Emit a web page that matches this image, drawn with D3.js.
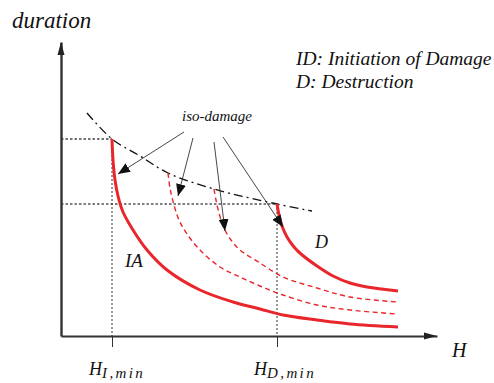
<!DOCTYPE html>
<html>
<head>
<meta charset="utf-8">
<script src="https://cdn.jsdelivr.net/npm/d3@7"></script>
<style>
  body { margin: 0; background: #fff; }
  svg { display: block; }
</style>
</head>
<body>
<svg id="chart" width="494" height="383"></svg>
<script>
// Schematic H / duration plane, values in arbitrary units measured from the origin.
const hIMin = 51;     // H_I,min : initiation of damage threshold
const hDMin = 216;    // H_D,min : destruction threshold
const durI = 197;     // duration level where the IA curve begins
const durD = 132;     // duration level where the D curve begins

// Iso-damage curves [H, duration]
const curveIA = [[51,197],[52,176],[54,156],[57,140],[62,124],[72,106],[86,86],[106,66],
                 [139,46],[172,34],[199,27],[222,21],[256,16],[289,12],[337,9]];
const isoLow  = [[107,163],[109,148],[113,131],[118,116],[126,102],[139,86],[159,69],[179,59],
                 [199,50],[222,41],[256,31],[289,26],[336,22]];
const isoHigh = [[153,147],[155,136],[158,123],[163,108],[170,96],[179,86],[199,73],[222,59],
                 [256,48],[289,39],[336,34]];
const curveD  = [[216,132],[218,121],[221,110],[226,99],[233,89],[240,82],[256,70],[272,60],
                 [289,53],[306,49],[337,45]];

// Dash-dot envelope through the start of each curve
const envelope = [[26,223],[51,197],[79,180],[107,163],[153,147],[216,132],[251,125]];

// Pointers from the "iso-damage" label to the curves
const pointers = [
  { from: [123,204], to: [57,162] },
  { from: [132,198], to: [117,140] },
  { from: [153,194], to: [164,105] },
  { from: [162,199], to: [222,109] }
];

const legendLines = ["ID: Initiation of Damage", "D: Destruction"];
const tickLabels = [
  { main: "H", sub: "I,min", at: hIMin },
  { main: "H", sub: "D,min", at: hDMin }
];
const curveLabels = [
  { text: "iso-damage", at: [121,215], size: 15 },
  { text: "IA", at: [64,69], size: 19 },
  { text: "D", at: [254,88], size: 18 }
];

const SERIF = '"Liberation Serif"';
const svg = d3.select("#chart");
const x = d3.scaleLinear().domain([0, 376]).range([61, 437]);
const y = d3.scaleLinear().domain([0, 294]).range([336, 42]);

const RED = "#e8262b";

// Italic serif text helper
const serif = sel => sel.style("font-family", SERIF).style("font-style", "italic").attr("fill", "#111");

// Arrowhead marker for the pointers
const defs = svg.append("defs");
defs.append("marker")
  .attr("id", "tip")
  .attr("viewBox", "0 0 12 10")
  .attr("refX", 12).attr("refY", 5)
  .attr("markerUnits", "userSpaceOnUse")
  .attr("markerWidth", 12).attr("markerHeight", 10)
  .attr("orient", "auto")
  .append("path").attr("d", "M0,0 L12,5 L0,10 Z").attr("fill", "#111");

// Guide lines (dotted)
const guides = svg.append("g");
guides.append("line")
  .attr("x1", x(0)).attr("x2", x(hIMin)).attr("y1", y(durI)).attr("y2", y(durI))
  .attr("stroke", "#444").attr("stroke-width", 1.3).attr("stroke-dasharray", "2.5,2");
guides.append("line")
  .attr("x1", x(0)).attr("x2", x(hDMin)).attr("y1", y(durD)).attr("y2", y(durD))
  .attr("stroke", "#555").attr("stroke-width", 1.6).attr("stroke-dasharray", "2.5,2");
guides.append("line")
  .attr("x1", x(hIMin)).attr("x2", x(hIMin)).attr("y1", y(durI)).attr("y2", y(0))
  .attr("stroke", "#333").attr("stroke-width", 1).attr("stroke-dasharray", "2,2");
guides.append("line")
  .attr("x1", x(hDMin)).attr("x2", x(hDMin)).attr("y1", y(durD)).attr("y2", y(0))
  .attr("stroke", "#333").attr("stroke-width", 1).attr("stroke-dasharray", "2,2");

// Axes
const xAxis = d3.axisBottom(x).tickValues([hIMin, hDMin]).tickFormat("").tickSizeInner(11).tickSizeOuter(0);
const yAxis = d3.axisLeft(y).tickValues([]).tickSizeOuter(0);
const gx = svg.append("g").attr("transform", `translate(0,${y(0)})`).call(xAxis);
gx.select(".domain").attr("stroke", "#333").attr("stroke-width", 2);
gx.selectAll(".tick line").attr("stroke", "#333").attr("stroke-width", 1);
const gy = svg.append("g").attr("transform", `translate(${x(0)},0)`).call(yAxis);
gy.select(".domain").attr("stroke", "#333").attr("stroke-width", 2.4);

// Axis arrowheads
const [x0, x1] = x.range();
const [y0, y1] = y.range();
svg.append("path")
  .attr("d", `M${x1},${y0} L${x1 - 13},${y0 - 3.5} L${x1 - 13},${y0 + 3.5} Z`)
  .attr("fill", "#222");
svg.append("path")
  .attr("d", `M${x0},${y1} L${x0 - 3.5},${y1 + 13} L${x0 + 3.5},${y1 + 13} Z`)
  .attr("fill", "#222");

// Curves
const line = d3.line().x(d => x(d[0])).y(d => y(d[1])).curve(d3.curveCatmullRom.alpha(0.5));

svg.append("path").attr("d", line(envelope))
  .attr("fill", "none").attr("stroke", "#111").attr("stroke-width", 1.3)
  .attr("stroke-dasharray", "9,4,2,4");

[isoLow, isoHigh].forEach(c => {
  svg.append("path").attr("d", line(c))
    .attr("fill", "none").attr("stroke", RED).attr("stroke-width", 1.4)
    .attr("stroke-dasharray", "5,3.5");
});
[curveIA, curveD].forEach(c => {
  svg.append("path").attr("d", line(c))
    .attr("fill", "none").attr("stroke", RED).attr("stroke-width", 3);
});

// Pointers
svg.append("g").selectAll("line").data(pointers).join("line")
  .attr("x1", d => x(d.from[0])).attr("y1", d => y(d.from[1]))
  .attr("x2", d => x(d.to[0])).attr("y2", d => y(d.to[1]))
  .attr("stroke", "#333").attr("stroke-width", 0.9)
  .attr("marker-end", "url(#tip)");

// Labels on the plane
svg.append("g").selectAll("text").data(curveLabels).join("text")
  .attr("x", d => x(d.at[0])).attr("y", d => y(d.at[1]))
  .attr("font-size", d => d.size)
  .call(serif)
  .text(d => d.text);

// Axis titles
svg.append("text").attr("x", 12).attr("y", 28).attr("font-size", 23).call(serif).text("duration");
svg.append("text").attr("x", 452).attr("y", 357).attr("font-size", 20).call(serif).text("H");

// Threshold tick labels
const tl = svg.append("g").selectAll("text").data(tickLabels).join("text")
  .attr("x", d => x(d.at) - 23).attr("y", 375).attr("font-size", 18).call(serif);
tl.append("tspan").text(d => d.main);
tl.append("tspan").attr("dy", 3).attr("font-size", 15).attr("letter-spacing", 2.4).text(d => d.sub);

// Legend
svg.append("g").selectAll("text").data(legendLines).join("text")
  .attr("x", 296).attr("y", (d, i) => 65 + i * 23)
  .attr("font-size", 19.5)
  .call(serif)
  .text(d => d);
</script>
</body>
</html>
